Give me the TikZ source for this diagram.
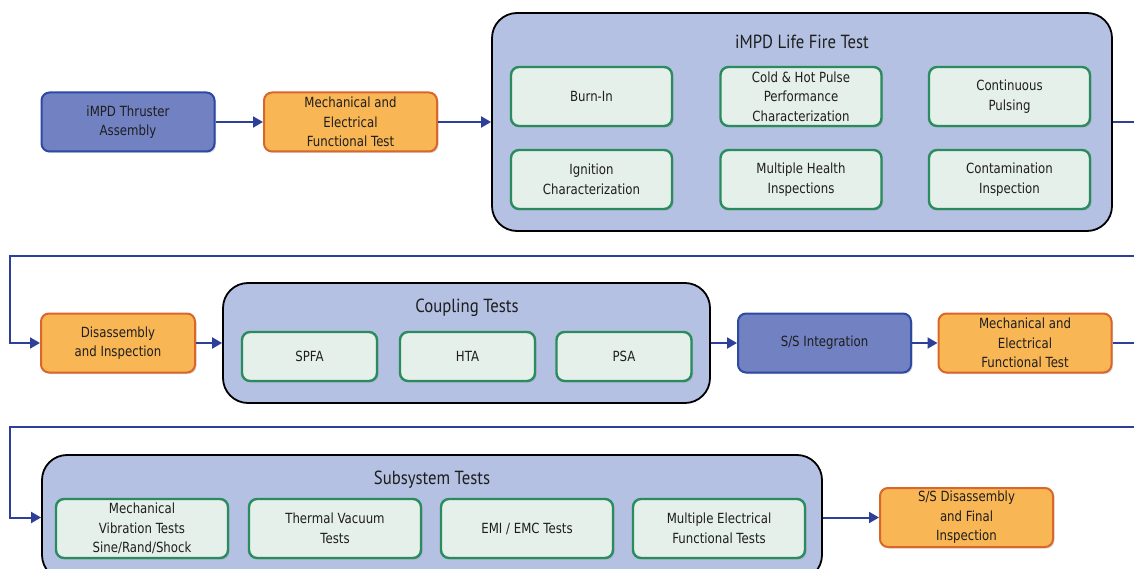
\documentclass[tikz,border=0pt]{standalone}
\usepackage{fontspec}
\setmainfont{DejaVu Sans}[FakeStretch=0.84]
\newfontfamily\titlefont{PT Sans}[FakeStretch=0.88]
\usepackage{xcolor}
\usetikzlibrary{arrows.meta,shadows}
\definecolor{flowblue}{HTML}{2E3F9A}
\definecolor{unitfill}{HTML}{7181C2}
\definecolor{unitline}{HTML}{2C4AA2}
\definecolor{testfill}{HTML}{F9B655}
\definecolor{testline}{HTML}{D9662A}
\definecolor{groupfill}{HTML}{B4C1E2}
\definecolor{itemfill}{HTML}{E6F0EA}
\definecolor{itemline}{HTML}{2A8C5E}
\definecolor{ink}{HTML}{1E1E1E}

\begin{document}
\begin{tikzpicture}[x=1pt, y=-1pt,
  box/.style={rounded corners=8pt, line width=2pt, align=center, inner sep=0pt,
    minimum height=59pt, text=ink, font=\fontsize{14}{19.5}\selectfont,
    drop shadow={shadow xshift=1.5pt, shadow yshift=-1.5pt, opacity=0.3}},
  unitbox/.style={box, fill=unitfill, draw=unitline, minimum width=173pt},
  checkbox/.style={box, fill=testfill, draw=testline, minimum width=173pt},
  itembox/.style={box, fill=itemfill, draw=itemline, line width=2.4pt, minimum width=161pt},
  groupbox/.style={rounded corners=25pt, line width=1.8pt, draw=black, fill=groupfill,
    inner sep=0pt},
  grouptitle/.style={text=ink, font=\titlefont\fontsize{19}{21}\selectfont},
  flow/.style={line width=2pt, draw=flowblue, -{Triangle[length=10pt, width=11pt]}},
  ]
  \useasboundingbox (0,0) rectangle (1134,569);

  \node[unitbox] (asm) at (128,122) {iMPD Thruster\\Assembly};
  \node[checkbox] (met1) at (350.5,122) {Mechanical and\\Electrical\\Functional Test};
  \node[groupbox, minimum width=620pt, minimum height=218pt] (life) at (802,122) {};
  \node[grouptitle] (lifetitle) at (802,42) {iMPD Life Fire Test};
  \node[itembox] (burn) at (591.5,96.5) {Burn-In};
  \node[itembox] (pulse) at (801,96.5) {Cold \& Hot Pulse\\Performance\\Characterization};
  \node[itembox] (cont) at (1009.5,96.5) {Continuous\\Pulsing};
  \node[itembox] (ign) at (591.5,179.5) {Ignition\\Characterization};
  \node[itembox] (health) at (801,179.5) {Multiple Health\\Inspections};
  \node[itembox] (contam) at (1009.5,179.5) {Contamination\\Inspection};

  \node[checkbox, minimum width=154pt] (dis) at (118,343) {Disassembly\\and Inspection};
  \node[groupbox, minimum width=487pt, minimum height=120pt] (coup) at (466.5,343) {};
  \node[grouptitle] (couptitle) at (467,308) {Coupling Tests};
  \node[itembox, minimum width=135pt, minimum height=49pt] (spfa) at (309.5,356.5) {SPFA};
  \node[itembox, minimum width=135pt, minimum height=49pt] (hta) at (467.5,356.5) {HTA};
  \node[itembox, minimum width=135pt, minimum height=49pt] (psa) at (624,356.5) {PSA};
  \node[unitbox] (ssint) at (824.5,343) {S/S Integration};
  \node[checkbox] (met2) at (1025,343) {Mechanical and\\Electrical\\Functional Test};

  \node[groupbox, minimum width=780pt, minimum height=125pt] (sub) at (432,517.5) {};
  \node[grouptitle] (subtitle) at (432,480) {Subsystem Tests};
  \node[itembox, minimum width=172pt] (vib) at (142,528.5) {Mechanical\\Vibration Tests\\Sine/Rand/Shock};
  \node[itembox, minimum width=172pt] (tvac) at (335,528.5) {Thermal Vacuum\\Tests};
  \node[itembox, minimum width=172pt] (emi) at (527,528.5) {EMI / EMC Tests};
  \node[itembox, minimum width=172pt] (elec) at (719,528.5) {Multiple Electrical\\Functional Tests};
  \node[checkbox] (ssdis) at (966.5,517.5) {S/S Disassembly\\and Final\\Inspection};

  \coordinate (wrap1) at (10,256);
  \coordinate (wrap2) at (10,427);

  \draw[flow] (asm) -- (met1);
  \draw[flow] (met1) -- (life);
  \draw[flow] (life.east) -- ++(40,0) |- (wrap1) |- (dis.west);
  \draw[flow] (dis) -- (coup);
  \draw[flow] (coup) -- (ssint);
  \draw[flow] (ssint) -- (met2);
  \draw[flow] (met2.east) -- ++(40,0) |- (wrap2) |- (sub.west);
  \draw[flow] (sub) -- (ssdis);
\end{tikzpicture}
\end{document}
